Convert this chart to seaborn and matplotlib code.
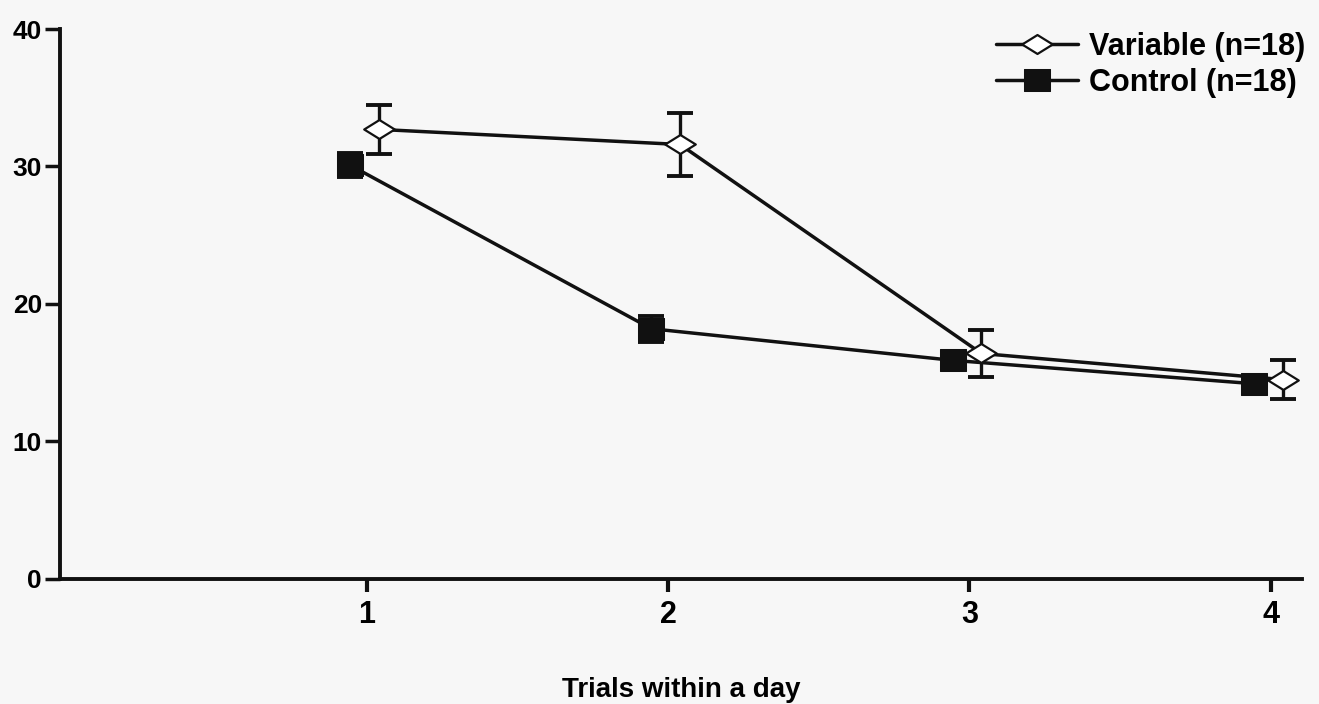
import numpy as np
import pandas as pd
import matplotlib
matplotlib.use("Agg")
import matplotlib.pyplot as plt
from matplotlib.path import Path
import seaborn as sns

# DATA
trials = [1, 2, 3, 4]
variable_mean = [32.7, 31.6, 16.4, 14.5]
variable_err = [1.8, 2.3, 1.7, 1.4]
control_mean = [30.1, 18.2, 15.9, 14.2]
control_err = [0.9, 0.95, 0.4, 0.4]
group_names = ["Variable (n=18)", "Control (n=18)"]

sns.set_theme(style="ticks")
plt.rcParams["font.family"] = ["Liberation Sans", "DejaVu Sans"]
plt.rcParams["font.weight"] = "bold"
plt.rcParams["text.color"] = "black"
plt.rcParams["xtick.color"] = "black"
plt.rcParams["ytick.color"] = "black"
plt.rcParams["axes.labelcolor"] = "black"

INK = "#111111"

df = pd.DataFrame({
    "trial": trials * 2,
    "score": variable_mean + control_mean,
    "err": variable_err + control_err,
    "group": [group_names[0]] * 4 + [group_names[1]] * 4,
})
# small horizontal offset so the two groups do not overlap
df["xpos"] = df["trial"] + np.where(df["group"] == group_names[0], 0.04, -0.055)

# flattened diamond and slightly wide square markers
diamond = Path([(-1, 0), (0, 0.62), (1, 0), (0, -0.62), (-1, 0)],
               [Path.MOVETO, Path.LINETO, Path.LINETO, Path.LINETO, Path.CLOSEPOLY])
block = Path([(-1, -0.82), (1, -0.82), (1, 0.82), (-1, 0.82), (-1, -0.82)],
             [Path.MOVETO, Path.LINETO, Path.LINETO, Path.LINETO, Path.CLOSEPOLY])

fig = plt.figure(figsize=(13.19, 7.04), dpi=100)
fig.patch.set_facecolor("#f7f7f7")
ax = fig.add_axes([0.0455, 0.1776, 0.9415, 0.7812])
ax.set_facecolor("#f7f7f7")

ctrl = df[df["group"] == group_names[1]]
var = df[df["group"] == group_names[0]]

ax.errorbar(ctrl["xpos"], ctrl["score"], yerr=ctrl["err"], fmt="none",
            ecolor=INK, elinewidth=2.4, capsize=9.5, capthick=2.8, zorder=2)
sns.lineplot(data=ctrl, x="xpos", y="score", ax=ax, color=INK,
             linewidth=2.5, marker=block, markersize=19, markerfacecolor=INK,
             markeredgecolor=INK, label=group_names[1], zorder=3)

ax.errorbar(var["xpos"], var["score"], yerr=var["err"], fmt="none",
            ecolor=INK, elinewidth=2.4, capsize=9.7, capthick=2.8, zorder=4)
sns.lineplot(data=var, x="xpos", y="score", ax=ax, color=INK,
             linewidth=2.5, marker=diamond, markersize=22, markerfacecolor="white",
             markeredgecolor=INK, markeredgewidth=1.6, label=group_names[0], zorder=5)

ax.set_xlim(-0.017, 4.103)
ax.set_ylim(0, 40)
ax.set_xticks(trials)
ax.set_yticks([0, 10, 20, 30, 40])
ax.tick_params(axis="x", labelsize=22, width=3, length=9, pad=6, color=INK)
ax.tick_params(axis="y", labelsize=19, width=2.5, length=11, pad=2, color=INK)
for lab in ax.get_xticklabels() + ax.get_yticklabels():
    lab.set_fontweight("bold")

sns.despine(ax=ax)
for side in ["left", "bottom"]:
    ax.spines[side].set_linewidth(2.8)
    ax.spines[side].set_color(INK)

ax.set_xlabel("Trials within a day", fontsize=20, fontweight="bold", labelpad=34)
ax.set_ylabel("")

handles, labels = ax.get_legend_handles_labels()
order = [labels.index(g) for g in group_names]
leg = ax.legend([handles[i] for i in order], [labels[i] for i in order],
                loc="upper right", bbox_to_anchor=(1.025, 1.045), frameon=False,
                prop={"size": 22, "weight": "bold"}, handlelength=2.7,
                handletextpad=0.35, labelspacing=0.2)

fig.savefig("out.png", dpi=100, facecolor=fig.get_facecolor())
